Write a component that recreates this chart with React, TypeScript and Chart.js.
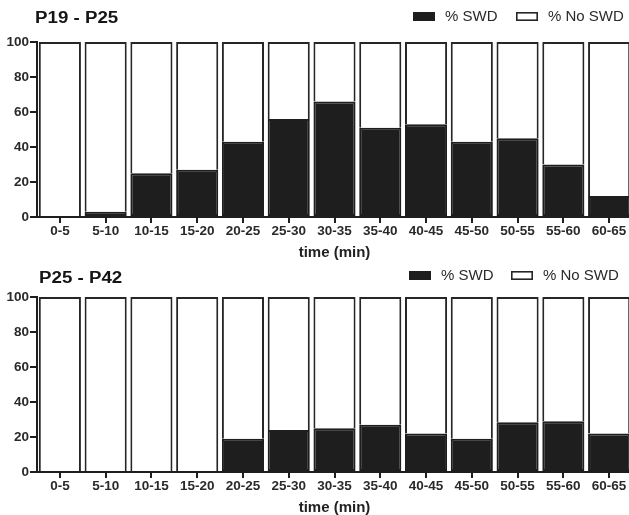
import React, { useEffect, useRef } from 'react';
import { Chart, registerables } from 'chart.js';

Chart.register(...registerables);

// ---- data ----
const categories = ['0-5', '5-10', '10-15', '15-20', '20-25', '25-30', '30-35', '35-40', '40-45', '45-50', '50-55', '55-60', '60-65'];
const swdP19P25 = [0, 3, 25, 27, 43, 56, 66, 51, 53, 43, 45, 30, 12];
const noSwdP19P25 = [100, 97, 75, 73, 57, 44, 34, 49, 47, 57, 55, 70, 88];
const swdP25P42 = [0, 0, 0, 0, 19, 24, 25, 27, 22, 19, 28.5, 29, 22];
const noSwdP25P42 = [100, 100, 100, 100, 81, 76, 75, 73, 78, 81, 71.5, 71, 78];
const yMin = 0;
const yMax = 100;
const yStep = 20;
const seriesLabels = ['% SWD', '% No SWD'];
const panelTitles = ['P19 - P25', 'P25 - P42'];
const xAxisTitle = 'time (min)';

const FONT = '"Liberation Sans", Arial, Helvetica, sans-serif';
const DARK = '#1e1e1e';
const TEXT = '#2a2a2a';

const CANVAS_W = 634;
const CANVAS_H = 263;

const panelDecor = {
  id: 'panelDecor',
  afterDraw(chart: any, _args: any, opts: any) {
    const ctx = chart.ctx as CanvasRenderingContext2D;
    ctx.save();
    // panel title (slightly widened lettering, as in the reference)
    ctx.save();
    ctx.translate(opts.titleX, opts.titleY);
    ctx.scale(1.17, 1);
    ctx.fillStyle = '#151515';
    ctx.font = `bold 16px ${FONT}`;
    ctx.textBaseline = 'alphabetic';
    ctx.textAlign = 'left';
    ctx.fillText(opts.title, 0, 0);
    ctx.restore();
    // legend
    ctx.font = `15px ${FONT}`;
    ctx.textBaseline = 'middle';
    ctx.textAlign = 'left';
    chart.data.datasets.forEach((ds: any, i: number) => {
      const x = opts.legendXs[i];
      const y = opts.legendY;
      ctx.fillStyle = ds.backgroundColor;
      ctx.fillRect(x, y, opts.boxW, opts.boxH);
      ctx.strokeStyle = ds.borderColor;
      ctx.lineWidth = 1.6;
      ctx.strokeRect(x + 0.8, y + 0.8, opts.boxW - 1.6, opts.boxH - 1.6);
      ctx.fillStyle = TEXT;
      ctx.fillText(ds.label, x + opts.boxW + 10, y + opts.boxH / 2 + 0.5);
    });
    ctx.restore();
  },
};

type PanelProps = {
  title: string;
  swd: number[];
  noSwd: number[];
  top: number;
  titleX: number;
  titleY: number;
  legendXs: number[];
  legendY: number;
};

function Panel(props: PanelProps) {
  const ref = useRef<HTMLCanvasElement | null>(null);
  useEffect(() => {
    if (!ref.current) return;
    const chart = new Chart(ref.current, {
      type: 'bar',
      data: {
        labels: categories,
        datasets: [
          {
            label: seriesLabels[0],
            data: props.swd,
            backgroundColor: DARK,
            borderColor: DARK,
            borderWidth: 2,
            borderSkipped: false,
            categoryPercentage: 1,
            barPercentage: 0.92,
          },
          {
            label: seriesLabels[1],
            data: props.noSwd,
            backgroundColor: '#ffffff',
            borderColor: '#262626',
            borderWidth: 2,
            borderSkipped: 'bottom',
            categoryPercentage: 1,
            barPercentage: 0.92,
          },
        ],
      },
      options: {
        responsive: false,
        animation: false,
        devicePixelRatio: 1,
        layout: { padding: { top: 42, left: 0, right: 2, bottom: 1 } },
        plugins: {
          legend: { display: false },
          title: { display: false },
          tooltip: { enabled: false },
          panelDecor: {
            title: props.title,
            titleX: props.titleX,
            titleY: props.titleY,
            legendXs: props.legendXs,
            legendY: props.legendY,
            boxW: 22,
            boxH: 9,
          },
        } as any,
        scales: {
          x: {
            stacked: true,
            offset: true,
            grid: {
              offset: false,
              drawOnChartArea: false,
              drawTicks: true,
              tickLength: 6,
              color: DARK,
              lineWidth: 2,
            },
            border: { display: true, color: DARK, width: 2 },
            ticks: {
              padding: 0,
              color: TEXT,
              font: { family: FONT, size: 13.5, weight: 'bold' },
              maxRotation: 0,
              autoSkip: false,
            },
            title: {
              display: true,
              text: xAxisTitle,
              color: '#222',
              font: { family: FONT, size: 15, weight: 'bold' },
              padding: 0,
            },
            afterFit: (scale: any) => {
              scale.height = CANVAS_H - 1 - 217;
            },
          },
          y: {
            stacked: true,
            min: yMin,
            max: yMax,
            ticks: {
              stepSize: yStep,
              padding: 1,
              color: TEXT,
              font: { family: FONT, size: 13.5, weight: 'bold' },
            },
            grid: {
              drawOnChartArea: false,
              drawTicks: true,
              tickLength: 7,
              color: DARK,
              lineWidth: 2,
            },
            border: { display: true, color: DARK, width: 2 },
            afterFit: (scale: any) => {
              scale.width = 37;
            },
          },
        },
      } as any,
      plugins: [panelDecor as any],
    });
    return () => chart.destroy();
  }, []);
  return (
    <canvas
      ref={ref}
      width={CANVAS_W}
      height={CANVAS_H}
      style={{ position: 'absolute', left: 0, top: props.top, width: CANVAS_W, height: CANVAS_H }}
    />
  );
}

export default function App() {
  return (
    <div
      style={{
        position: 'fixed',
        left: 0,
        top: 0,
        width: 629,
        height: 515,
        overflow: 'hidden',
        background: '#ffffff',
      }}
    >
      <Panel
        title={panelTitles[0]}
        swd={swdP19P25}
        noSwd={noSwdP19P25}
        top={0}
        titleX={35}
        titleY={23}
        legendXs={[413, 516]}
        legendY={12}
      />
      <Panel
        title={panelTitles[1]}
        swd={swdP25P42}
        noSwd={noSwdP25P42}
        top={255}
        titleX={39}
        titleY={28}
        legendXs={[409, 511]}
        legendY={16}
      />
    </div>
  );
}
